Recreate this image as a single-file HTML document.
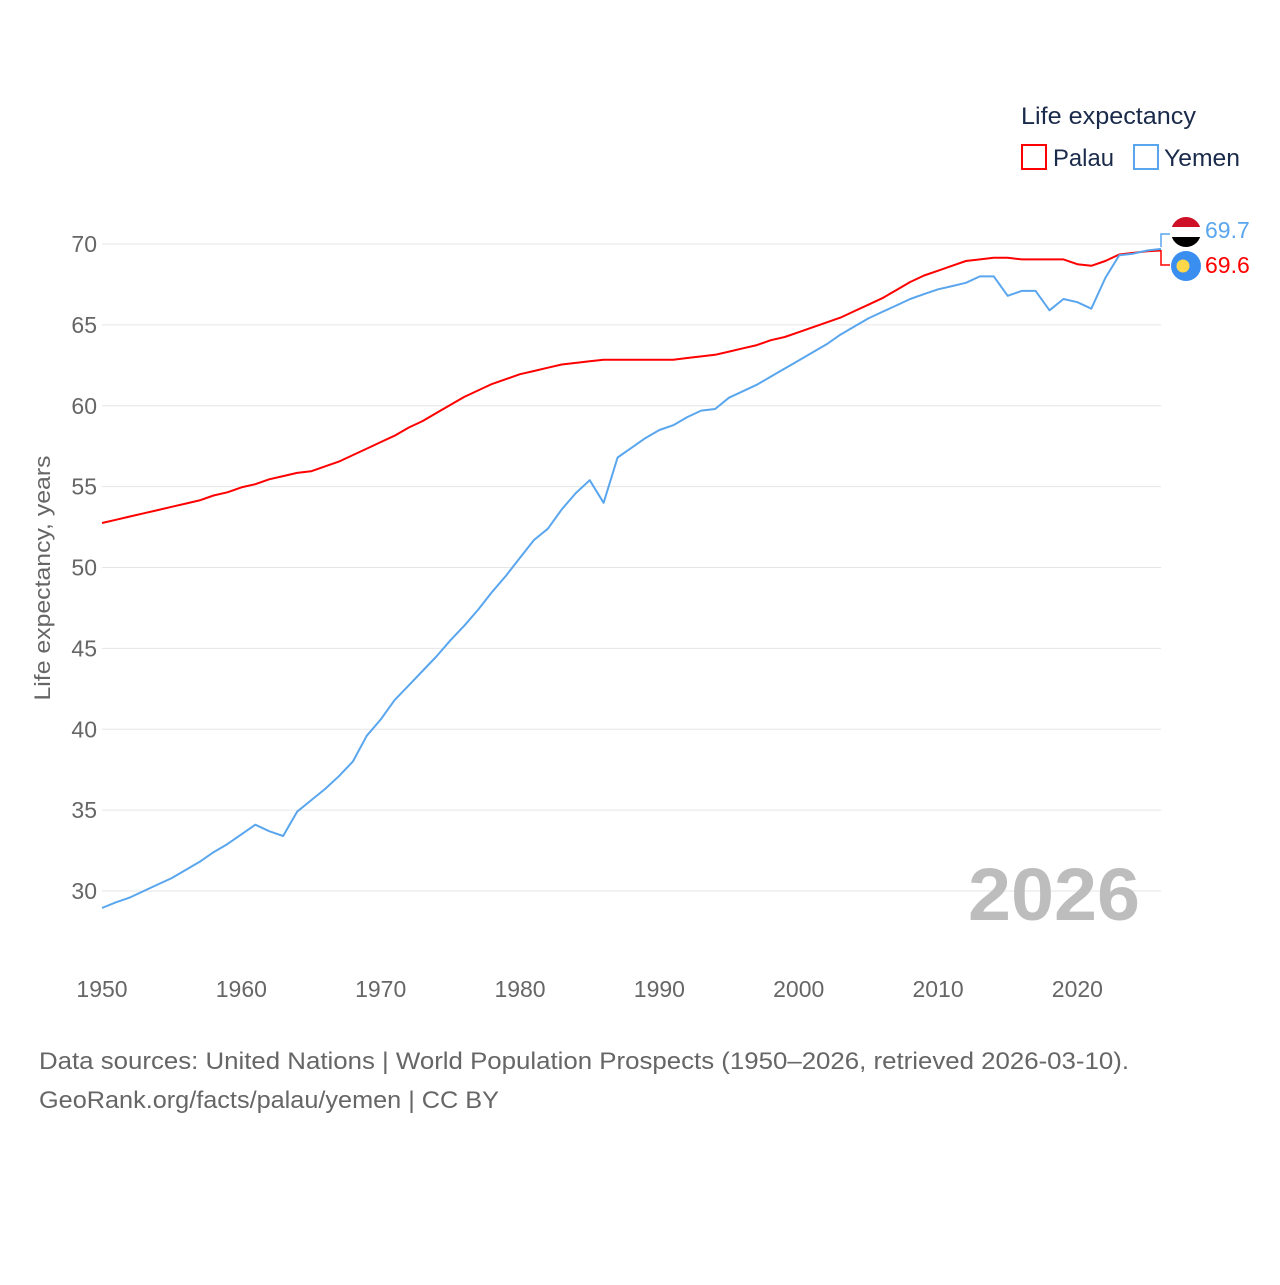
<!DOCTYPE html>
<html><head><meta charset="utf-8"><style>
html,body{margin:0;padding:0;background:#fff;}
body{width:1280px;height:1280px;position:relative;font-family:"Liberation Sans",sans-serif;}
svg text{font-family:"Liberation Sans",sans-serif;}
</style></head><body>
<svg id="chart" width="1280" height="1280" xmlns="http://www.w3.org/2000/svg">
<g id="grid"></g>
<g id="yticks"></g>
<g id="xticks"></g>
<text x="0" y="0" transform="translate(50,578) rotate(-90)" text-anchor="middle" font-size="22" textLength="245" lengthAdjust="spacingAndGlyphs" fill="#666">Life expectancy, years</text>
<text x="968" y="920" font-size="74" font-weight="bold" textLength="172" lengthAdjust="spacingAndGlyphs" fill="#bdbdbd">2026</text>
<g id="series"></g>
<g>
<text x="1021" y="124" font-size="24" textLength="175" lengthAdjust="spacingAndGlyphs" fill="#1a2a4a">Life expectancy</text>
<rect x="1022" y="145" width="24" height="24" fill="none" stroke="#ff0000" stroke-width="2"/>
<text x="1053" y="166" font-size="24" textLength="61" lengthAdjust="spacingAndGlyphs" fill="#1a2a4a">Palau</text>
<rect x="1134" y="145" width="24" height="24" fill="none" stroke="#5aa6ee" stroke-width="2"/>
<text x="1164" y="166" font-size="24" textLength="76" lengthAdjust="spacingAndGlyphs" fill="#1a2a4a">Yemen</text>
</g>
<g>
<defs><clipPath id="yc"><circle cx="1186" cy="232" r="15"/></clipPath></defs>
<g clip-path="url(#yc)">
<rect x="1170" y="216" width="32" height="11" fill="#ce1126"/>
<rect x="1170" y="227" width="32" height="10" fill="#fff"/>
<rect x="1170" y="237" width="32" height="12" fill="#000"/>
</g>
<circle cx="1186" cy="266" r="15" fill="#3a8ef0"/>
<circle cx="1183" cy="266" r="6.5" fill="#ffd84a"/>
<path d="M1161 247 V234 H1170" fill="none" stroke="#5aa6ee" stroke-width="1.5"/>
<path d="M1161 250 V265 H1170" fill="none" stroke="#ff0000" stroke-width="1.5"/>
<text x="1205" y="238" font-size="23" fill="#5aa6ee">69.7</text>
<text x="1205" y="273" font-size="23" fill="#ff0000">69.6</text>
</g>
<text x="39" y="1069" font-size="24" textLength="1090" lengthAdjust="spacingAndGlyphs" fill="#666">Data sources: United Nations | World Population Prospects (1950–2026, retrieved 2026-03-10).</text>
<text x="39" y="1108" font-size="24" textLength="460" lengthAdjust="spacingAndGlyphs" fill="#666">GeoRank.org/facts/palau/yemen | CC BY</text>
</svg>
<script>
const years = [];
for (let y = 1950; y <= 2026; y++) years.push(y);
const palau = [52.75,52.95,53.15,53.35,53.55,53.75,53.95,54.15,54.45,54.65,54.95,55.15,55.45,55.65,55.85,55.95,56.25,56.55,56.95,57.35,57.75,58.15,58.65,59.05,59.55,60.05,60.55,60.95,61.35,61.65,61.95,62.15,62.35,62.55,62.65,62.75,62.85,62.85,62.85,62.85,62.85,62.85,62.95,63.05,63.15,63.35,63.55,63.75,64.05,64.25,64.55,64.85,65.15,65.45,65.85,66.25,66.65,67.15,67.65,68.05,68.35,68.65,68.95,69.05,69.15,69.15,69.05,69.05,69.05,69.05,68.75,68.65,68.95,69.35,69.45,69.55,69.6];
const yemen = [28.95,29.3,29.6,30.0,30.4,30.8,31.3,31.8,32.4,32.9,33.5,34.1,33.7,33.4,34.9,35.6,36.3,37.1,38.0,39.6,40.6,41.8,42.7,43.6,44.5,45.5,46.4,47.4,48.5,49.5,50.6,51.7,52.4,53.6,54.6,55.4,54.0,56.8,57.4,58.0,58.5,58.8,59.3,59.7,59.8,60.5,60.9,61.3,61.8,62.3,62.8,63.3,63.8,64.4,64.9,65.4,65.8,66.2,66.6,66.9,67.2,67.4,67.6,68.0,68.0,66.8,67.1,67.1,65.9,66.6,66.4,66.0,67.9,69.3,69.4,69.6,69.7];
const yTicks = [30,35,40,45,50,55,60,65,70];
const xTicks = [1950,1960,1970,1980,1990,2000,2010,2020];

const NS = "http://www.w3.org/2000/svg";
function xs(v){ return 102 + (v - 1950) * (1161 - 102) / 76; }
function ys(v){ return 891 - (v - 30) * (891 - 244) / 40; }
function mk(tag, attrs, parent){
  const e = document.createElementNS(NS, tag);
  for (const k in attrs) e.setAttribute(k, attrs[k]);
  parent.appendChild(e); return e;
}
const grid = document.getElementById('grid'), yt = document.getElementById('yticks'), xt = document.getElementById('xticks'), ser = document.getElementById('series');
yTicks.forEach(t => {
  const l = mk('line', {x1:102, x2:1161, y1:ys(t), y2:ys(t), stroke:'#e6e6e6', 'stroke-width':1}, grid);
  
  
  const tx = mk('text', {x:97, y:ys(t)+8, 'text-anchor':'end', 'font-size':23, fill:'#666'}, yt);
  tx.textContent = t;
  
  
});
xTicks.forEach(t => {
  const tx = mk('text', {x:xs(t), y:997, 'text-anchor':'middle', 'font-size':23, fill:'#666'}, xt);
  tx.textContent = t;
  
  
});
function line(vals, color, name){
  const d = vals.map((v,i) => (i ? 'L' : 'M') + xs(years[i]).toFixed(1) + ' ' + ys(v).toFixed(1)).join(' ');
  const p = mk('path', {d:d, fill:'none', stroke:color, 'stroke-width':2, 'stroke-linejoin':'round'}, ser);
  
  
}
line(palau, '#ff0000', 'palau-line');
line(yemen, '#5aa6ee', 'yemen-line');
</script>
</body></html>
